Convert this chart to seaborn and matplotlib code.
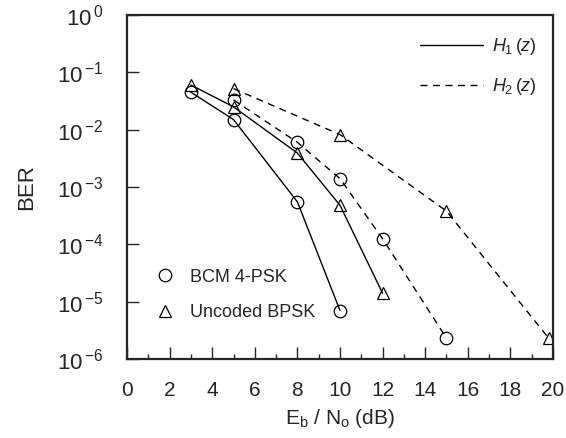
import numpy as np
import pandas as pd
import matplotlib
matplotlib.use('Agg')
import matplotlib.pyplot as plt
from matplotlib.lines import Line2D
from matplotlib.ticker import LogLocator, MultipleLocator, NullLocator, FuncFormatter
import seaborn as sns

# values
snr_h1_bcm = [3, 5, 8, 10]
ber_h1_bcm = [4.5e-2, 1.5e-2, 5.5e-4, 7e-6]
snr_h1_bpsk = [3, 5, 8, 10, 12]
ber_h1_bpsk = [6.0e-2, 2.5e-2, 3.9e-3, 4.8e-4, 1.4e-5]
snr_h2_bcm = [5, 8, 10, 12, 15]
ber_h2_bcm = [3.3e-2, 6.0e-3, 1.4e-3, 1.25e-4, 2.3e-6]
snr_h2_bpsk = [5, 10, 15, 19.8]
ber_h2_bpsk = [5.2e-2, 8.2e-3, 3.8e-4, 2.3e-6]

sns.set_style('ticks')
plt.rcParams['font.family'] = ['Liberation Sans', 'DejaVu Sans']
plt.rcParams['mathtext.fontset'] = 'custom'
plt.rcParams['mathtext.rm'] = 'Liberation Sans'
plt.rcParams['mathtext.it'] = 'Liberation Sans:italic'

fig = plt.figure(figsize=(5.66, 4.38), dpi=100)
ax = fig.add_axes([0.2244, 0.1804, 0.7526, 0.7854])

serie = [
    (snr_h1_bcm, ber_h1_bcm, '-', 'o'),
    (snr_h1_bpsk, ber_h1_bpsk, '-', '^'),
    (snr_h2_bcm, ber_h2_bcm, (0, (5, 4)), 'o'),
    (snr_h2_bpsk, ber_h2_bpsk, (0, (5, 4)), '^'),
]
for x, y, ls, mk in serie:
    df = pd.DataFrame({'snr': x, 'ber': y})
    sns.lineplot(data=df, x='snr', y='ber', ax=ax, color='black', linestyle=ls,
                 linewidth=1.0, marker=mk, markersize=9, markerfacecolor='none',
                 markeredgecolor='black', markeredgewidth=0.9)

ax.set_yscale('log')
ax.set_xlim(0, 20)
ax.set_ylim(1e-6, 1)
ax.xaxis.set_major_locator(MultipleLocator(2))
ax.xaxis.set_minor_locator(MultipleLocator(1))
ax.yaxis.set_major_locator(LogLocator(base=10, numticks=10))
ax.yaxis.set_minor_locator(NullLocator())
ax.yaxis.set_major_formatter(FuncFormatter(
    lambda v, p: r'$\mathregular{10}^{\,\mathregular{%d}}$' % round(np.log10(v))))
ax.tick_params(which='major', direction='in', length=8.6, width=1.0)
ax.tick_params(which='minor', direction='in', length=3.8, width=1.0)
ax.tick_params(axis='x', pad=16, labelsize=15)
ax.tick_params(axis='y', pad=17, labelsize=16)
for s in ax.spines.values():
    s.set_linewidth(1.6)

ax.set_xlabel(r'E$_\mathregular{b}$ / N$_\mathregular{o}$ (dB)', fontsize=15, labelpad=5)
ax.set_ylabel('BER', fontsize=16, labelpad=14)

# line style legend
h_lines = [Line2D([], [], color='black', lw=1.0, ls='-'),
           Line2D([], [], color='black', lw=1.0, ls=(0, (5, 4)))]
leg1 = ax.legend(h_lines, [r'$H_1\,(z)$', r'$H_2\,(z)$'], loc='center left',
                 frameon=False, handlelength=3.5, handletextpad=0.5,
                 labelspacing=1.05, fontsize=13, borderpad=0, borderaxespad=0,
                 bbox_to_anchor=(0.688, 0.850))
ax.add_artist(leg1)

# marker legend
h_mk = [Line2D([], [], ls='none', marker='o', ms=9, mfc='none', mec='black', mew=0.9),
        Line2D([], [], ls='none', marker='^', ms=9, mfc='none', mec='black', mew=0.9)]
ax.legend(h_mk, ['BCM 4-PSK', 'Uncoded BPSK'], loc='center left', frameon=False,
          handlelength=1.0, handletextpad=0.9, labelspacing=1.05, fontsize=13,
          borderpad=0, borderaxespad=0, bbox_to_anchor=(0.068, 0.186))

fig.savefig('out.png', dpi=100)
